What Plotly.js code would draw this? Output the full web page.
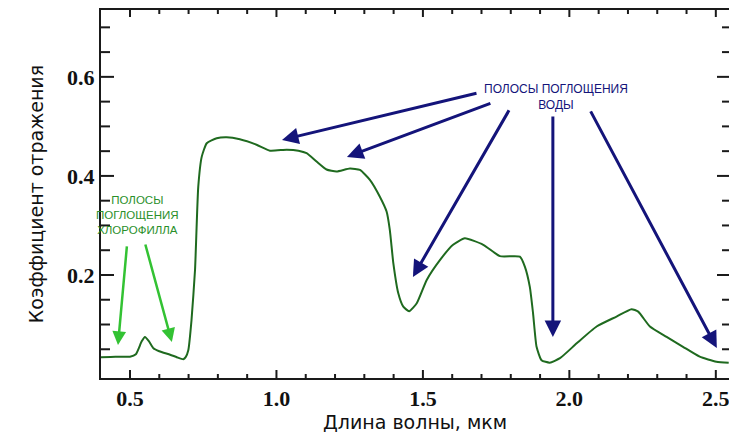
<!DOCTYPE html>
<html>
<head>
<meta charset="utf-8">
<script src="https://cdn.plot.ly/plotly-3.0.1.min.js"></script>
<style>html,body{margin:0;padding:0;background:#fff;}#chart{width:729px;height:437px;}.modebar-container{display:none !important;}</style>
</head>
<body>
<div id="chart"></div>
<script>
// Wavelength, µm
const wavelength = [0.40,0.45,0.50,0.52,0.54,0.551,0.565,0.58,0.60,0.637,0.66,0.682,0.69,0.699,0.71,0.722,0.733,0.745,0.762,0.796,0.83,0.875,0.932,0.978,1.035,1.075,1.103,1.137,1.171,1.205,1.251,1.285,1.319,1.353,1.376,1.387,1.399,1.416,1.433,1.453,1.479,1.513,1.558,1.603,1.643,1.706,1.763,1.831,1.848,1.865,1.876,1.888,1.905,1.933,1.968,2.025,2.093,2.161,2.212,2.235,2.275,2.332,2.388,2.445,2.502,2.544];
// Reflectance
const reflectance = [0.034,0.035,0.035,0.040,0.066,0.075,0.066,0.052,0.046,0.039,0.034,0.030,0.034,0.048,0.109,0.210,0.378,0.439,0.466,0.476,0.478,0.474,0.463,0.451,0.453,0.451,0.446,0.429,0.413,0.409,0.415,0.412,0.392,0.358,0.328,0.291,0.224,0.163,0.136,0.127,0.143,0.190,0.230,0.261,0.274,0.261,0.238,0.237,0.217,0.176,0.123,0.055,0.028,0.023,0.032,0.062,0.096,0.116,0.131,0.126,0.096,0.075,0.055,0.035,0.025,0.023];

const xTickVals = [0.5,1.0,1.5,2.0,2.5];
const xTickText = ["0.5","1.0","1.5","2.0","2.5"];
const yTickVals = [0.2,0.4,0.6];
const yTickText = ["0.2","0.4","0.6"];
const xMinorVals = [0.6,0.7,0.8,0.9,1.1,1.2,1.3,1.4,1.6,1.7,1.8,1.9,2.1,2.2,2.3,2.4];
const yMinorVals = [0.05,0.1,0.15,0.25,0.3,0.35,0.45,0.5,0.55,0.65,0.7];

const chloroLabel = "ПОЛОСЫ<br>ПОГЛОЩЕНИЯ<br>ХЛОРОФИЛЛА";
const waterLabel = "ПОЛОСЫ ПОГЛОЩЕНИЯ<br>ВОДЫ";

const green = "#33c233";
const navy = "#14147a";
const axisColor = "#1a1a1a";

const xRange = [0.401, 2.545];
const yRange = [-0.008, 0.735];
const plotW = 628, plotH = 368;
const pxX = (xRange[1] - xRange[0]) / plotW;
const pxY = (yRange[1] - yRange[0]) / plotH;

function arrow(tail, head, color, width) {
  return {
    x: head[0], y: head[1], ax: tail[0], ay: tail[1],
    xref: 'x', yref: 'y', axref: 'x', ayref: 'y',
    text: '', showarrow: true, arrowhead: 2, arrowsize: 1.1,
    arrowwidth: width, arrowcolor: color, standoff: 0, startstandoff: 0
  };
}

// Inward tick marks on all four sides, as line segments built from the tick value arrays
const tickX = [], tickY = [];
function addXTicks(vals, lenBottom, lenTop) {
  vals.forEach(v => {
    tickX.push(v, v, null); tickY.push(yRange[0], yRange[0] + lenBottom * pxY, null);
    tickX.push(v, v, null); tickY.push(yRange[1], yRange[1] - lenTop * pxY, null);
  });
}
function addYTicks(vals, lenLeft, lenRight) {
  vals.forEach(v => {
    tickY.push(v, v, null); tickX.push(xRange[0], xRange[0] + lenLeft * pxX, null);
    tickY.push(v, v, null); tickX.push(xRange[1], xRange[1] - lenRight * pxX, null);
  });
}
addXTicks(xTickVals, 8, 7);
addXTicks(xMinorVals, 4, 4);
addYTicks(yTickVals, 13, 12);
addYTicks(yMinorVals, 9, 7);

const tickTrace = {
  x: tickX, y: tickY, type: 'scatter', mode: 'lines',
  line: {color: axisColor, width: 2}, connectgaps: false,
  hoverinfo: 'skip', cliponaxis: false
};

const trace = {
  x: wavelength, y: reflectance, type: 'scatter', mode: 'lines',
  line: {color: '#1f6a1f', width: 2, shape: 'spline', smoothing: 0.5},
  hoverinfo: 'skip'
};

const tickFont = {family: 'Liberation Serif, Times New Roman, serif', size: 22, color: '#111', weight: 'bold'};

const layout = {
  width: 729, height: 437,
  margin: {l: 101, r: 0, t: 10, b: 59},
  showlegend: false,
  xaxis: {
    range: xRange, showgrid: false, zeroline: false,
    showline: true, linecolor: axisColor, linewidth: 2, mirror: true,
    ticks: '', tickvals: xTickVals, ticktext: xTickText, tickfont: tickFont,
    ticklabeloverflow: 'allow',
    title: {text: 'Длина волны, мкм', font: {family: 'DejaVu Sans, sans-serif', size: 19, color: '#111'}, standoff: 4}
  },
  yaxis: {
    range: yRange, showgrid: false, zeroline: false,
    showline: true, linecolor: axisColor, linewidth: 2, mirror: true,
    ticks: '', tickvals: yTickVals, ticktext: yTickText, tickfont: tickFont,
    title: {text: 'Коэффициент отражения', font: {family: 'DejaVu Sans, sans-serif', size: 19, color: '#111'}, standoff: 18}
  },
  annotations: [
    {x: 0.524, y: 0.321, xref: 'x', yref: 'y', text: chloroLabel, showarrow: false,
     font: {family: 'Liberation Sans Narrow, Arial Narrow, Liberation Sans, sans-serif', size: 11.5, color: '#2a8f2a'},
     align: 'center', xanchor: 'center', yanchor: 'middle'},
    {x: 1.954, y: 0.5596, xref: 'x', yref: 'y', text: waterLabel, showarrow: false,
     font: {family: 'Liberation Sans Narrow, Arial Narrow, Liberation Sans, sans-serif', size: 12, color: navy},
     align: 'center', xanchor: 'center', yanchor: 'middle'},
    arrow([0.4898, 0.2606], [0.459, 0.0586], green, 2.5),
    arrow([0.551, 0.2646], [0.643, 0.0646], green, 2.5),
    arrow([1.688, 0.5677], [1.019, 0.4727], navy, 3),
    arrow([1.7355, 0.5475], [1.2406, 0.4384], navy, 3),
    arrow([1.7969, 0.5354], [1.4659, 0.196], navy, 3),
    arrow([1.9437, 0.5232], [1.9437, 0.0747], navy, 3),
    arrow([2.07, 0.5333], [2.5034, 0.0525], navy, 3)
  ]
};

Plotly.newPlot('chart', [trace, tickTrace], layout);
</script>
</body>
</html>
